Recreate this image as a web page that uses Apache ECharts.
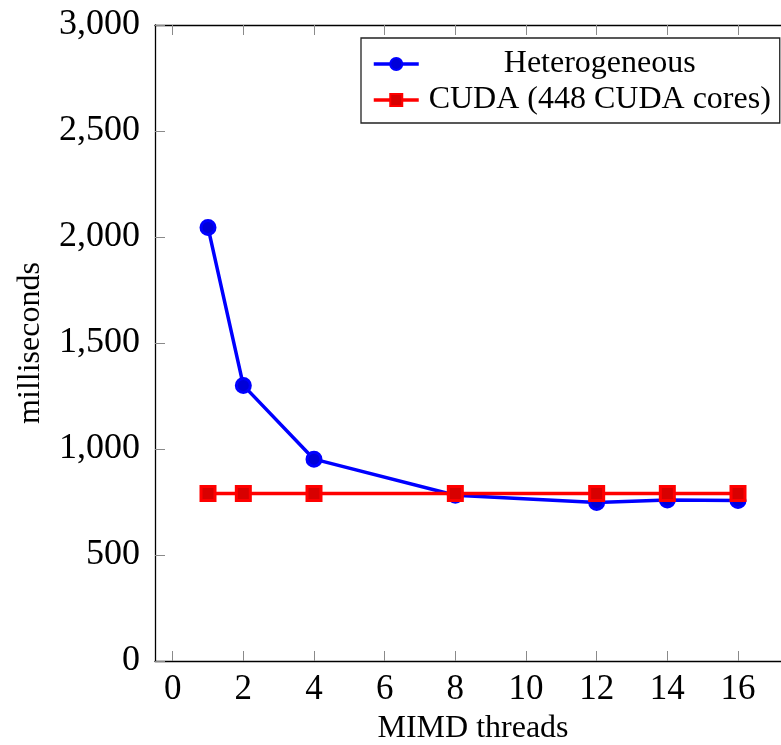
<!DOCTYPE html>
<html>
<head>
<meta charset="utf-8">
<script src="https://cdn.jsdelivr.net/npm/echarts@6/dist/echarts.min.js"></script>
<style>
  html, body { margin: 0; padding: 0; background: #fff; }
  #chart { width: 781px; height: 745px; }
</style>
</head>
<body>
<div id="chart"></div>
<script>
// MIMD thread counts (x) and runtimes in milliseconds (y)
const threads = [1, 2, 4, 8, 12, 14, 16];
const heterogeneousMs = [2045, 1300, 952, 782, 748, 760, 757];
const cudaMs = [790, 790, 790, 790, 790, 790, 790];
const xTicks = [0, 2, 4, 6, 8, 10, 12, 14, 16];
const seriesNames = ['Heterogeneous', 'CUDA (448 CUDA cores)'];

const pairs = (xs, ys) => xs.map((x, i) => [x, ys[i]]);

const serif = 'Liberation Serif';
const fmtThousands = v => String(v).replace(/\B(?=(\d{3})+(?!\d))/g, ',');

const tick = { show: true, inside: true, length: 10, lineStyle: { color: '#8a8a8a', width: 1 } };
const axisLine = { show: true, onZero: false, lineStyle: { color: '#000', width: 1.3 } };

const chart = echarts.init(document.getElementById('chart'), null, { renderer: 'canvas' });
chart.setOption({
  animation: false,
  backgroundColor: '#fff',
  grid: { left: 155, top: 25, right: -10, bottom: 84, outerBoundsMode: 'none', containLabel: false },
  legend: {
    orient: 'vertical',
    left: 361,
    top: 38,
    padding: [10, 4, 7, 11],
    itemGap: 4,
    itemWidth: 45,
    itemHeight: 15,
    backgroundColor: '#fff',
    borderColor: '#222',
    borderWidth: 1.3,
    borderRadius: 0,
    lineStyle: { width: 3.5 },
    data: seriesNames,
    formatter: name => '{t|' + name + '}',
    textStyle: {
      rich: {
        t: { fontFamily: serif, fontSize: 32, color: '#000', width: 352, align: 'center', lineHeight: 33 }
      }
    }
  },
  xAxis: [
    {
      type: 'value', min: -0.5, max: 17.5, position: 'bottom',
      name: 'MIMD threads', nameLocation: 'middle', nameGap: 52,
      nameTextStyle: { fontFamily: serif, fontSize: 32, color: '#000' },
      axisLine: axisLine,
      axisTick: Object.assign({ customValues: xTicks }, tick),
      axisLabel: { customValues: xTicks, fontFamily: serif, fontSize: 35, color: '#000', margin: 11 },
      splitLine: { show: false }
    },
    {
      type: 'value', min: -0.5, max: 17.5, position: 'top',
      axisLine: axisLine,
      axisTick: Object.assign({ customValues: xTicks }, tick),
      axisLabel: { show: false },
      splitLine: { show: false }
    }
  ],
  yAxis: [
    {
      type: 'value', min: 0, max: 3000, interval: 500, position: 'left',
      name: 'milliseconds', nameLocation: 'middle', nameGap: 108,
      nameTextStyle: { fontFamily: serif, fontSize: 32, color: '#000' },
      axisLine: axisLine,
      axisTick: tick,
      axisLabel: { fontFamily: serif, fontSize: 36, color: '#000', margin: 15, formatter: fmtThousands },
      splitLine: { show: false }
    },
    {
      type: 'value', min: 0, max: 3000, interval: 500, position: 'right',
      axisLine: axisLine,
      axisTick: tick,
      axisLabel: { show: false },
      splitLine: { show: false }
    }
  ],
  series: [
    {
      name: seriesNames[0], type: 'line', data: pairs(threads, heterogeneousMs),
      symbol: 'circle', symbolSize: 14,
      lineStyle: { color: '#0000ff', width: 3.5 },
      itemStyle: { color: '#0000d8', borderColor: '#0000ff', borderWidth: 3 },
      z: 2
    },
    {
      name: seriesNames[1], type: 'line', data: pairs(threads, cudaMs),
      symbol: 'rect', symbolSize: 14,
      lineStyle: { color: '#ff0000', width: 3.5 },
      itemStyle: { color: '#d80000', borderColor: '#ff0000', borderWidth: 3 },
      z: 3
    }
  ]
});
</script>
</body>
</html>
